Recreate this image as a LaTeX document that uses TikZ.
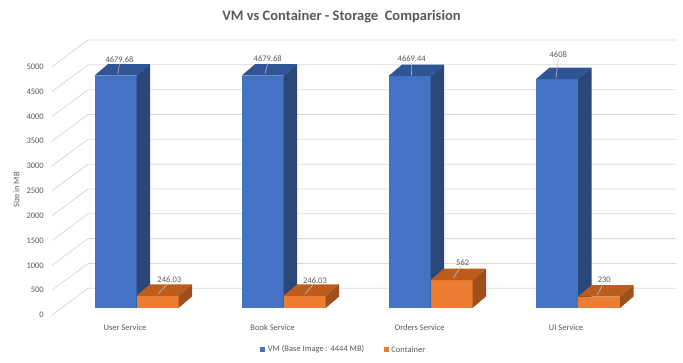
\documentclass[tikz,border=0pt]{standalone}
\usepackage{fontspec}
\setmainfont{Carlito}
\usepackage{tikz}
\usetikzlibrary{positioning,calc}

\definecolor{txtgray}{HTML}{595959}
\definecolor{gridgray}{HTML}{D9D9D9}
\definecolor{vmfront}{HTML}{4472C4}
\definecolor{vmtop}{HTML}{2F5597}
\definecolor{vmside}{HTML}{2A4779}
\definecolor{ctfront}{HTML}{ED7D31}
\definecolor{cttop}{HTML}{BC5D1E}
\definecolor{ctside}{HTML}{9E4F1A}

\tikzset{
  gridline/.style={draw=gridgray, line width=0.8pt},
  ticklabel/.style={text=txtgray, font=\fontsize{8.5}{10}\selectfont, anchor=east, inner sep=0pt},
  catlabel/.style={text=txtgray, font=\fontsize{8.5}{10}\selectfont, inner sep=0pt},
  vallabel/.style={text=txtgray, font=\fontsize{8.5}{10}\selectfont, inner sep=1pt},
  leader/.style={draw=gray!50, line width=0.6pt},
  legendkey/.style={minimum size=5pt, inner sep=0pt},
  legendtext/.style={text=txtgray, font=\fontsize{8.5}{10}\selectfont, anchor=west, inner sep=0pt}
}

% one 3d column: x of left edge, value, front / top / side colour
\newcommand{\colbox}[5]{%
  \pgfmathsetmacro{\ytop}{308-#2*0.04966}
  \fill[#3] (#1,308) rectangle (#1+42,\ytop);%front
  \fill[#4] (#1,\ytop) -- ++(13.5,-11.5) -- ++(42,0) -- ++(-13.5,11.5) -- cycle;%top
  \fill[#5] (#1+42,308) -- (#1+42,\ytop) -- ++(13.5,-11.5) -- ++(0,308-\ytop) -- cycle;%side
}

\begin{document}
\begin{tikzpicture}[x=1pt, y=-1pt]
    \useasboundingbox (0,0) rectangle (683,362);
    % title
    \node (title) [text=txtgray, font=\fontsize{14.5}{17}\selectfont\bfseries] at (341.5,17) {VM vs Container - Storage~ Comparision};
    % =============== walls and grid ====================
    \foreach \v [count=\i from 0] in {0,500,...,5000}{
      \draw[gridline] (52,315-\i*24.83) -- (88,288.3-\i*24.83) -- (676,288.3-\i*24.83);%side wall + back wall
      \node (tick\i) [ticklabel] at (44,315-\i*24.83) {\v};%value axis
    }
    \node (axis) [text=txtgray, font=\fontsize{8.5}{10}\selectfont, rotate=90] at (16.5,190) {Size in MB};
    % =============== columns ====================
    \colbox{94.5}{4679.68}{vmfront}{vmtop}{vmside}
    \colbox{136.5}{246.03}{ctfront}{cttop}{ctside}
    \colbox{241.7}{4679.68}{vmfront}{vmtop}{vmside}
    \colbox{283.7}{246.03}{ctfront}{cttop}{ctside}
    \colbox{388.5}{4669.44}{vmfront}{vmtop}{vmside}
    \colbox{430.5}{562}{ctfront}{cttop}{ctside}
    \colbox{536}{4608}{vmfront}{vmtop}{vmside}
    \colbox{578}{230}{ctfront}{cttop}{ctside}
    % =============== data labels ====================
    \coordinate (vm1) at (117.7,74);
    \coordinate (ct1) at (158,294);
    \coordinate (vm2) at (265,74);
    \coordinate (ct2) at (305,294);
    \coordinate (vm3) at (411.5,75);
    \coordinate (ct3) at (453,278);
    \coordinate (vm4) at (556,78);
    \coordinate (ct4) at (597.3,295);
    \node (lvm1) [vallabel] at (119.5,59.5) {4679.68};
    \node (lct1) [vallabel] at (169.3,280) {246.03};
    \node (lvm2) [vallabel] at (267.7,59) {4679.68};
    \node (lct2) [vallabel] at (315,280.5) {246.03};
    \node (lvm3) [vallabel] at (411.7,59) {4669.44};
    \node (lct3) [vallabel] at (462.7,263) {562};
    \node (lvm4) [vallabel] at (558.3,55) {4608};
    \node (lct4) [vallabel] at (604.3,279.5) {230};
    \draw[leader] (vm1) -- (lvm1.south);
    \draw[leader] (ct1) -- ([xshift=-2pt]lct1.south);
    \draw[leader] (vm2) -- (lvm2.south);
    \draw[leader] (ct2) -- ([xshift=-2pt]lct2.south);
    \draw[leader] (vm3) -- (lvm3.south);
    \draw[leader] (ct3) -- ([xshift=-2pt]lct3.south);
    \draw[leader] (vm4) -- (lvm4.south);
    \draw[leader] (ct4) -- ([xshift=-1pt]lct4.south);
    % =============== categories ====================
    \node (cat1) [catlabel] at (125,327.5) {User Service};
    \node (cat2) [catlabel] at (272.5,327.5) {Book Service};
    \node (cat3) [catlabel] at (419.7,327.5) {Orders Service};
    \node (cat4) [catlabel] at (566,327.5) {UI Service};
    % =============== legend ====================
    \node (keyvm) [legendkey, fill=vmfront] at (262.5,349.5) {};
    \node (txtvm) [legendtext, right=2.5pt of keyvm] {VM (Base Image : 4444 MB)};
    \node (keyct) [legendkey, fill=ctfront] at (386,349.5) {};
    \node (txtct) [legendtext, right=2.5pt of keyct] {Container};
\end{tikzpicture}
\end{document}
